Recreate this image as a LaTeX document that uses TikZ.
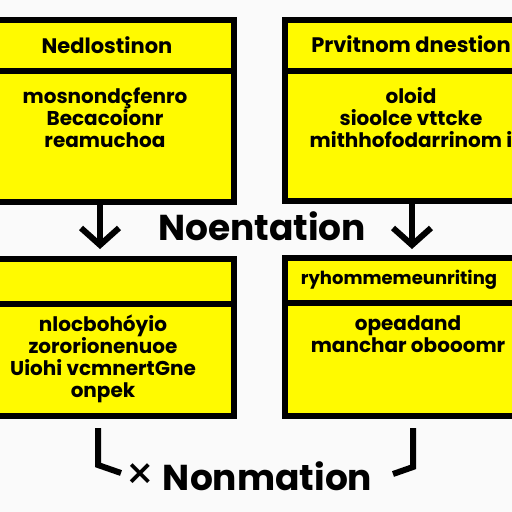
\documentclass[tikz,border=0pt]{standalone}
\usepackage{fontspec}
\setmainfont{Poppins}
\usetikzlibrary{arrows.meta}

\definecolor{boxyellow}{RGB}{255,250,0}
\definecolor{paper}{RGB}{250,250,250}

\tikzset{
  box/.style={draw, line width=6pt, fill=boxyellow, rectangle, inner sep=0pt},
  head/.style={font=\fontsize{21}{22}\selectfont\bfseries, anchor=base, inner sep=0pt},
  body/.style={font=\fontsize{20}{22}\selectfont\bfseries, anchor=base, align=center, inner sep=0pt},
  big/.style={font=\fontsize{36}{38}\selectfont\bfseries, anchor=base, inner sep=0pt},
  conn/.style={line width=6pt},
  arr/.style={conn, -{Straight Barb[length=17pt,width=38pt]}}
}

\begin{document}
\begin{tikzpicture}[x=1pt,y=-1pt]
  %\draw[lightgray] (0,0) grid[step=32] (512,512);
  \fill[paper] (0,0) rectangle (512,512);
  \useasboundingbox (0,0) rectangle (512,512);
  \clip (0,0) rectangle (512,512);

  \node[box, minimum width=254pt, minimum height=182pt] (topleft) at (107,111) {};
  \node[box, minimum width=254pt, minimum height=181pt] (topright) at (412,110.5) {};
  \node[box, minimum width=254pt, minimum height=157pt] (bottomleft) at (107,337.5) {};
  \node[box, minimum width=254pt, minimum height=158pt] (bottomright) at (412,337) {};
  \draw[conn] (topleft.west |- 0,71) -- (topleft.east |- 0,71);
  \draw[conn] (topright.west |- 0,71) -- (topright.east |- 0,71);
  \draw[conn] (bottomleft.west |- 0,304) -- (bottomleft.east |- 0,304);
  \draw[conn] (bottomright.west |- 0,303) -- (bottomright.east |- 0,303);

  % body nodes sit on the baseline of their last line
  \node[head] (tlhead) at (107,53) {Nedlostinon};
  \node[body] (tlbody) at (105,147) {mosnondçfenro\\Becacoionr\\reamuchoa};
  \node[head] (trhead) at (411,52) {Prvitnom dnestion};
  \node[body] (trbody) at (411,147) {oloid\\sioolce vttcke\\mithhofodarrinom i};
  \node[body] (blbody) at (103,397) {nlocbohóyio\\zororionenuoe\\Uiohi vcmnertGne\\onpek};
  \node[head, font=\fontsize{18}{20}\selectfont\bfseries] (brhead) at (399,284) {ryhommemeunriting};
  \node[body] (brbody) at (408,352) {opeadand\\manchar obooomr};

  \node[big] (middle) at (262,240) {Noentation};
  \node[big] (bottomlabel) at (249,490) {{\mdseries\fontsize{46}{46}\selectfont ×} Nonmation};

  \coordinate (leftend) at (100,249);
  \coordinate (rightend) at (412,249);
  \draw[arr] (topleft.south -| leftend) -- (leftend);
  \draw[arr] (topright.south -| rightend) -- (rightend);

  \coordinate (lfoot) at (98,465);
  \coordinate (rfoot) at (413,467);
  \draw[conn] ([yshift=-9pt]bottomleft.south -| lfoot) -- (lfoot) -- (121,473);
  \draw[conn] ([yshift=-9pt]bottomright.south -| rfoot) -- (rfoot) -- (393,474);
\end{tikzpicture}
\end{document}
